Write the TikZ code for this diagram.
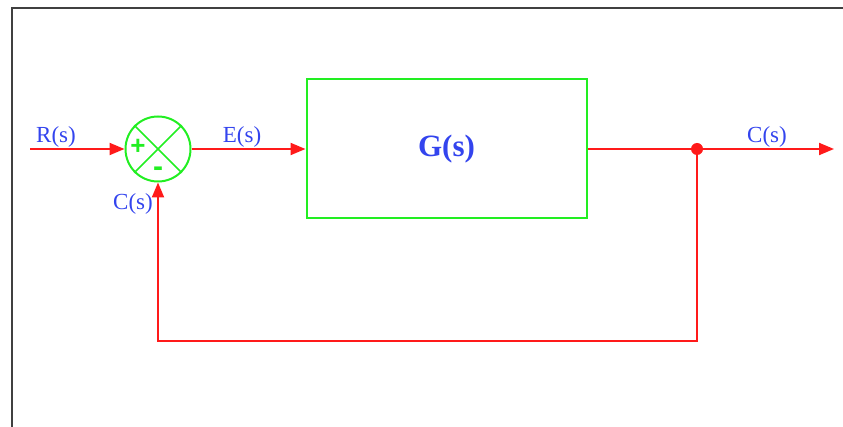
\documentclass[tikz,border=0pt]{standalone}
\usepackage{fontspec}
\setmainfont{Liberation Serif}
\newfontfamily\signfont{Liberation Sans}
\usetikzlibrary{arrows.meta}
\definecolor{lred}{HTML}{FF1A1A}
\definecolor{lgreen}{HTML}{22EE22}
\definecolor{lblue}{HTML}{3344EE}
\definecolor{frame}{HTML}{404040}
\tikzset{
  frameline/.style={draw=frame, line width=2.2pt},
  sig/.style={draw=lred, line width=2pt, -{Triangle[length=15pt,width=12pt]}},
  wire/.style={draw=lred, line width=2pt},
  block/.style={draw=lgreen, line width=2pt, minimum width=280pt, minimum height=139pt, inner sep=0pt, text=lblue, font=\fontsize{31}{33}\selectfont\bfseries},
  sumnode/.style={draw=lgreen, circle, line width=2pt, minimum size=65pt, inner sep=0pt},
  signlbl/.style={text=lgreen, font=\signfont\fontsize{26}{28}\selectfont\bfseries, inner sep=0pt},
  lbl/.style={text=lblue, font=\fontsize{23}{25}\selectfont, inner sep=0pt},
  tapdot/.style={circle, fill=lred, minimum size=12pt, inner sep=0pt}
}
\begin{document}
\begin{tikzpicture}[x=1pt,y=-1pt]
\useasboundingbox (0,0) rectangle (843,427);
\draw[frameline] (12,428) -- (12,8) -- (844,8);

\node[sumnode] (sum) at (158,149) {};
\draw[draw=lgreen, line width=1.6pt] (sum.north west) -- (sum.south east);
\draw[draw=lgreen, line width=1.6pt] (sum.north east) -- (sum.south west);
\node[signlbl] (plus) at (138,147) {+};
\node[signlbl, font=\signfont\fontsize{30}{32}\selectfont\bfseries] (minus) at (158,172) {-};

\node[block] (G) at (446.5,149) {G(s)};
\node[tapdot] (tap) at (697,149) {};

\coordinate (rin) at (30,149);
\coordinate (cout) at (834,149);
\coordinate (fbr) at (697,341);
\coordinate (fbl) at (158,341);

\draw[sig] (rin) -- (sum.west);
\draw[sig] (sum.east) -- (G.west);
\draw[wire] (G.east) -- (tap.center);
\draw[sig] (tap.center) -- (cout);
\draw[sig] (tap.center) -- (fbr) -- (fbl) -- (sum.south);

\node[lbl] (rlbl) at (56,137) {R(s)};
\node[lbl] (elbl) at (242,137) {E(s)};
\node[lbl] (clbl) at (767,137) {C(s)};
\node[lbl] (fblbl) at (133,204) {C(s)};
\end{tikzpicture}
\end{document}
